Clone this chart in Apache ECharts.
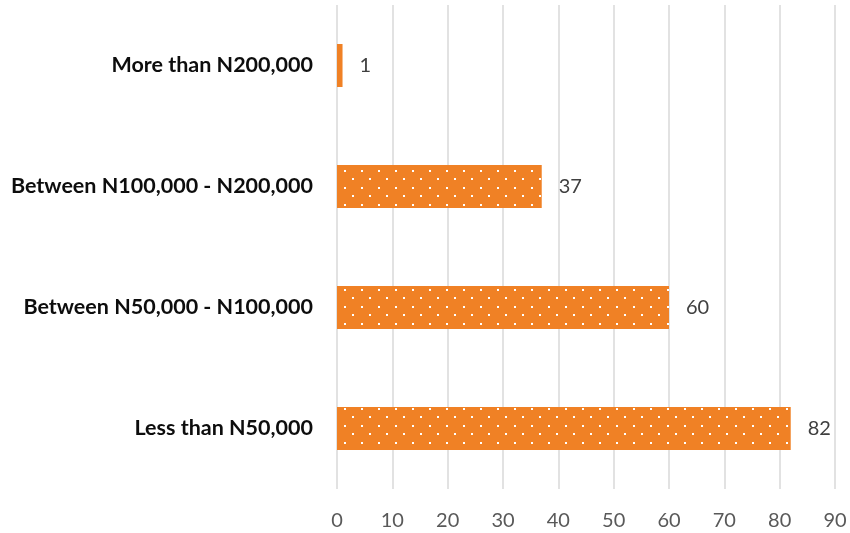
<!DOCTYPE html>
<html>
<head>
<meta charset="utf-8">
<script src="https://cdn.jsdelivr.net/npm/echarts@6/dist/echarts.min.js"></script>
<style>
  html, body { margin: 0; padding: 0; background: #fff; }
  #chart { width: 850px; height: 533px; }
</style>
</head>
<body>
<div id="chart"></div>
<script>
var categories = ['Less than N50,000', 'Between N50,000 - N100,000', 'Between N100,000 - N200,000', 'More than N200,000'];
var counts = [82, 60, 37, 1];
var xTicks = [0, 10, 20, 30, 40, 50, 60, 70, 80, 90];

// dotted fill like the excel pattern
function dotPattern() {
    var c = document.createElement('canvas');
    c.width = 17;
    c.height = 17;
    var ctx = c.getContext('2d');
    ctx.fillStyle = '#F08125';
    ctx.fillRect(0, 0, 17, 17);
    ctx.fillStyle = '#ffffff';
    ctx.fillRect(4, 0, 2, 2);
    ctx.fillRect(12, 8, 2, 2);
    return c;
}

var chart = echarts.init(document.getElementById('chart'));
var option = {
    animation: false,
    grid: {
        left: 337,
        right: 15,
        top: 5,
        bottom: 44
    },
    xAxis: {
        type: 'value',
        min: xTicks[0],
        max: xTicks[xTicks.length - 1],
        interval: 10,
        axisLine: { show: false },
        axisTick: { show: false },
        axisLabel: {
            margin: 22,
            fontSize: 20,
            color: '#595959',
            fontFamily: 'Lato'
        },
        splitLine: {
            show: true,
            lineStyle: { color: '#D9D9D9', width: 1.5 }
        }
    },
    yAxis: {
        type: 'category',
        data: categories,
        axisLine: { show: false },
        axisTick: { show: false },
        axisLabel: {
            margin: 24,
            fontSize: 21.5,
            fontWeight: 'bold',
            color: '#0D0D0D',
            fontFamily: 'Lato'
        }
    },
    series: [
        {
            type: 'bar',
            data: counts,
            barWidth: 43,
            itemStyle: {
                color: { image: dotPattern(), repeat: 'repeat' }
            },
            label: {
                show: true,
                position: 'right',
                distance: 17,
                fontSize: 20,
                color: '#404040',
                fontFamily: 'Lato'
            }
        }
    ]
};
chart.setOption(option);
</script>
</body>
</html>
